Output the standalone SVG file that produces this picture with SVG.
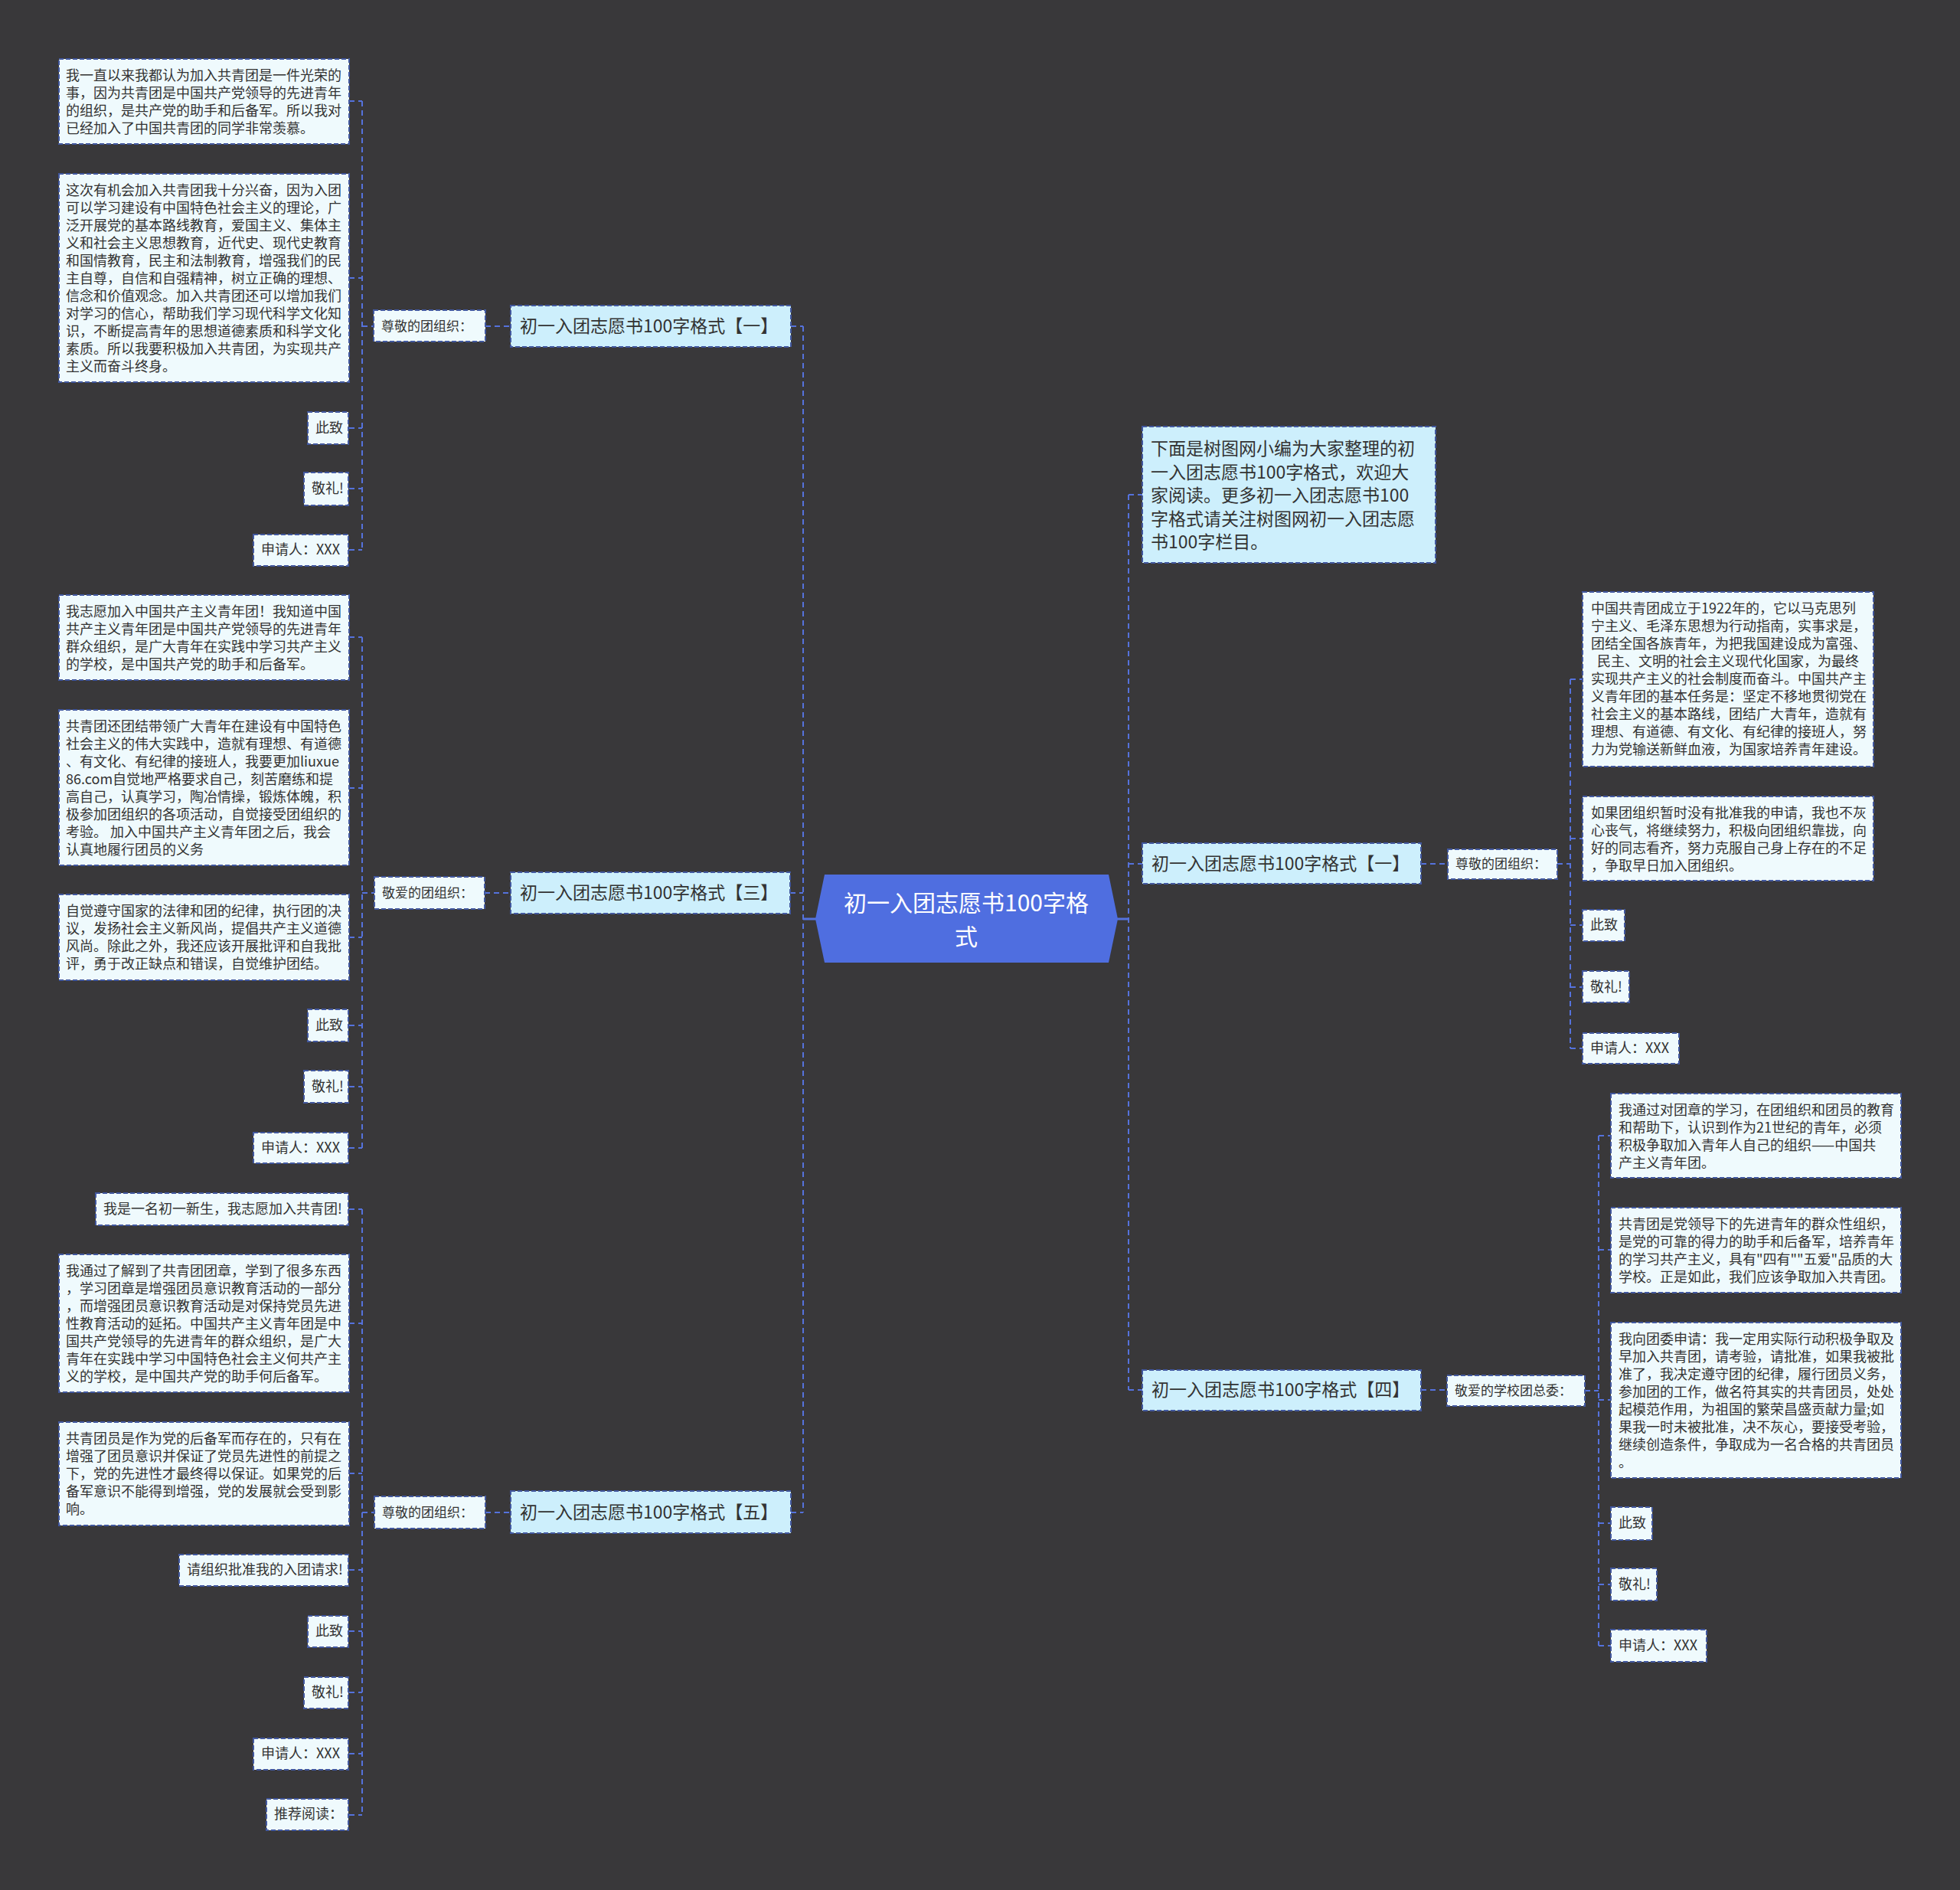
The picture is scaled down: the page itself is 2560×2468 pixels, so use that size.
<svg xmlns="http://www.w3.org/2000/svg" width="2560" height="2468" viewBox="0 0 2560 2468">
<style>
.bg{fill:#39383a}
.leaf{fill:#effafd;stroke:#42589f;stroke-width:2;stroke-dasharray:6 3}
.branch{fill:#cdeffc;stroke:#42589f;stroke-width:2;stroke-dasharray:6 3}
.t{font-family:"Noto Sans CJK SC","Noto Sans",sans-serif;fill:#333;white-space:pre}
.s18{font-size:18px}
.s17{font-size:17px}
.s23{font-size:23px}
.conn{fill:none;stroke:#5572dc;stroke-width:2;stroke-dasharray:7 5}
.solid{fill:none;stroke:#5572dc;stroke-width:3}
</style>
<rect class="bg" x="0" y="0" width="2560" height="2468"/>

<g id="connectors">
<path class="solid" d="M1049 1200H1066M1459 1200H1474"/>
<path class="conn" d="M1049 426V1975M1033 426H1049M1032 1166H1049M1033 1975H1049"/>
<path class="conn" d="M634 426H667M473 132V718M473 426H488M456 132H473M456 363H473M456 559H473M456 638H473M456 718H473"/>
<path class="conn" d="M633 1166H667M473 832V1499M473 1166H489M456 832H473M456 1029H473M456 1224H473M456 1339H473M456 1419H473M456 1499H473"/>
<path class="conn" d="M634 1975H667M473 1579V2370M473 1975H489M456 1579H473M456 1728H473M456 1924H473M456 2050H473M456 2130H473M456 2210H473M456 2290H473M456 2370H473"/>
<path class="conn" d="M1474 646V1815M1474 646H1492M1474 1128H1492M1474 1815H1492"/>
<path class="conn" d="M1856 1128H1891M2034 1128H2051M2051 887V1369M2051 887H2067M2051 1095H2067M2051 1208H2067M2051 1289H2067M2051 1369H2067"/>
<path class="conn" d="M1856 1815H1890M2070 1816H2088M2088 1483V2149M2088 1483H2104M2088 1632H2104M2088 1828H2104M2088 1989H2104M2088 2069H2104M2088 2149H2104"/>
</g>

<g id="center">
<polygon points="1077,1142 1448,1142 1460,1200 1448,1257 1077,1257 1065,1200" fill="#4f6ee0"/>
<text class="t" font-size="30" style="fill:#fff" text-anchor="middle" x="1262" y="1190">初一入团志愿书100字格</text>
<text class="t" font-size="30" style="fill:#fff" text-anchor="middle" x="1262" y="1234">式</text>
</g>

<!-- Left branch 一 -->
<g id="L1">
<rect class="branch" x="667" y="399" width="366" height="54"/>
<text class="t s23" x="679" y="434">初一入团志愿书100字格式【一】</text>
</g>
<g id="L1-label">
<rect class="leaf" x="488" y="405" width="146" height="41"/>
<text class="t s17" x="498" y="432">尊敬的团组织：</text>
</g>
<g id="L1-c1">
<rect class="leaf" x="77" y="77" width="379" height="111"/>
<text class="t s18"><tspan x="86" y="105">我一直以来我都认为加入共青团是一件光荣的</tspan><tspan x="86" y="128">事，因为共青团是中国共产党领导的先进青年</tspan><tspan x="86" y="151">的组织，是共产党的助手和后备军。所以我对</tspan><tspan x="86" y="174">已经加入了中国共青团的同学非常羡慕。</tspan></text>
</g>
<g id="L1-c2">
<rect class="leaf" x="77" y="227" width="379" height="272"/>
<text class="t s18"><tspan x="86" y="255">这次有机会加入共青团我十分兴奋，因为入团</tspan><tspan x="86" y="278">可以学习建设有中国特色社会主义的理论，广</tspan><tspan x="86" y="301">泛开展党的基本路线教育，爱国主义、集体主</tspan><tspan x="86" y="324">义和社会主义思想教育，近代史、现代史教育</tspan><tspan x="86" y="347">和国情教育，民主和法制教育，增强我们的民</tspan><tspan x="86" y="370">主自尊，自信和自强精神，树立正确的理想、</tspan><tspan x="86" y="393">信念和价值观念。加入共青团还可以增加我们</tspan><tspan x="86" y="416">对学习的信心，帮助我们学习现代科学文化知</tspan><tspan x="86" y="439">识，不断提高青年的思想道德素质和科学文化</tspan><tspan x="86" y="462">素质。所以我要积极加入共青团，为实现共产</tspan><tspan x="86" y="485">主义而奋斗终身。</tspan></text>
</g>
<g id="L1-c3"><rect class="leaf" x="402" y="538" width="53" height="42"/><text class="t s18" x="412" y="565">此致</text></g>
<g id="L1-c4"><rect class="leaf" x="397" y="617" width="58" height="43"/><text class="t s18" x="407" y="644">敬礼!</text></g>
<g id="L1-c5"><rect class="leaf" x="331" y="698" width="124" height="41"/><text class="t s18" x="341" y="724">申请人：XXX</text></g>

<!-- Left branch 三 -->
<g id="L3">
<rect class="branch" x="667" y="1139" width="365" height="54"/>
<text class="t s23" x="679" y="1174">初一入团志愿书100字格式【三】</text>
</g>
<g id="L3-label">
<rect class="leaf" x="489" y="1145" width="144" height="42"/>
<text class="t s17" x="499" y="1172">敬爱的团组织：</text>
</g>
<g id="L3-c1">
<rect class="leaf" x="77" y="777" width="379" height="111"/>
<text class="t s18"><tspan x="86" y="805">我志愿加入中国共产主义青年团！我知道中国</tspan><tspan x="86" y="828">共产主义青年团是中国共产党领导的先进青年</tspan><tspan x="86" y="851">群众组织，是广大青年在实践中学习共产主义</tspan><tspan x="86" y="874">的学校，是中国共产党的助手和后备军。</tspan></text>
</g>
<g id="L3-c2">
<rect class="leaf" x="77" y="927" width="379" height="203"/>
<text class="t s18"><tspan x="86" y="955">共青团还团结带领广大青年在建设有中国特色</tspan><tspan x="86" y="978">社会主义的伟大实践中，造就有理想、有道德</tspan><tspan x="86" y="1001">、有文化、有纪律的接班人，我要更加liuxue</tspan><tspan x="86" y="1024">86.com自觉地严格要求自己，刻苦磨练和提</tspan><tspan x="86" y="1047">高自己，认真学习，陶冶情操，锻炼体魄，积</tspan><tspan x="86" y="1070">极参加团组织的各项活动，自觉接受团组织的</tspan><tspan x="86" y="1093">考验。 加入中国共产主义青年团之后，我会</tspan><tspan x="86" y="1116">认真地履行团员的义务</tspan></text>
</g>
<g id="L3-c3">
<rect class="leaf" x="77" y="1168" width="379" height="112"/>
<text class="t s18"><tspan x="86" y="1196">自觉遵守国家的法律和团的纪律，执行团的决</tspan><tspan x="86" y="1219">议，发扬社会主义新风尚，提倡共产主义道德</tspan><tspan x="86" y="1242">风尚。除此之外，我还应该开展批评和自我批</tspan><tspan x="86" y="1265">评，勇于改正缺点和错误，自觉维护团结。</tspan></text>
</g>
<g id="L3-c4"><rect class="leaf" x="402" y="1318" width="53" height="42"/><text class="t s18" x="412" y="1345">此致</text></g>
<g id="L3-c5"><rect class="leaf" x="397" y="1398" width="58" height="42"/><text class="t s18" x="407" y="1425">敬礼!</text></g>
<g id="L3-c6"><rect class="leaf" x="331" y="1479" width="124" height="40"/><text class="t s18" x="341" y="1505">申请人：XXX</text></g>

<!-- Left branch 五 -->
<g id="L5">
<rect class="branch" x="667" y="1947" width="366" height="55"/>
<text class="t s23" x="679" y="1983">初一入团志愿书100字格式【五】</text>
</g>
<g id="L5-label">
<rect class="leaf" x="489" y="1954" width="145" height="42"/>
<text class="t s17" x="499" y="1981">尊敬的团组织：</text>
</g>
<g id="L5-c1"><rect class="leaf" x="125" y="1558" width="330" height="42"/><text class="t s18" x="135" y="1585">我是一名初一新生，我志愿加入共青团!</text></g>
<g id="L5-c2">
<rect class="leaf" x="77" y="1638" width="379" height="180"/>
<text class="t s18"><tspan x="86" y="1666">我通过了解到了共青团团章，学到了很多东西</tspan><tspan x="86" y="1689">，学习团章是增强团员意识教育活动的一部分</tspan><tspan x="86" y="1712">，而增强团员意识教育活动是对保持党员先进</tspan><tspan x="86" y="1735">性教育活动的延拓。中国共产主义青年团是中</tspan><tspan x="86" y="1758">国共产党领导的先进青年的群众组织，是广大</tspan><tspan x="86" y="1781">青年在实践中学习中国特色社会主义何共产主</tspan><tspan x="86" y="1804">义的学校，是中国共产党的助手何后备军。</tspan></text>
</g>
<g id="L5-c3">
<rect class="leaf" x="77" y="1857" width="379" height="135"/>
<text class="t s18"><tspan x="86" y="1885">共青团员是作为党的后备军而存在的，只有在</tspan><tspan x="86" y="1908">增强了团员意识并保证了党员先进性的前提之</tspan><tspan x="86" y="1931">下，党的先进性才最终得以保证。如果党的后</tspan><tspan x="86" y="1954">备军意识不能得到增强，党的发展就会受到影</tspan><tspan x="86" y="1977">响。</tspan></text>
</g>
<g id="L5-c4"><rect class="leaf" x="234" y="2030" width="221" height="41"/><text class="t s18" x="244" y="2056">请组织批准我的入团请求!</text></g>
<g id="L5-c5"><rect class="leaf" x="402" y="2110" width="53" height="41"/><text class="t s18" x="412" y="2136">此致</text></g>
<g id="L5-c6"><rect class="leaf" x="397" y="2190" width="58" height="41"/><text class="t s18" x="407" y="2216">敬礼!</text></g>
<g id="L5-c7"><rect class="leaf" x="331" y="2270" width="124" height="41"/><text class="t s18" x="341" y="2296">申请人：XXX</text></g>
<g id="L5-c8"><rect class="leaf" x="348" y="2349" width="107" height="41"/><text class="t s18" x="358" y="2375">推荐阅读：</text></g>

<!-- Right intro -->
<g id="R-intro">
<rect class="branch" x="1492" y="557" width="383" height="178"/>
<text class="t s23"><tspan x="1503" y="594">下面是树图网小编为大家整理的初</tspan><tspan x="1503" y="624.5">一入团志愿书100字格式，欢迎大</tspan><tspan x="1503" y="655">家阅读。更多初一入团志愿书100</tspan><tspan x="1503" y="685.5">字格式请关注树图网初一入团志愿</tspan><tspan x="1503" y="716">书100字栏目。</tspan></text>
</g>

<!-- Right branch 一 -->
<g id="R1">
<rect class="branch" x="1492" y="1101" width="364" height="53"/>
<text class="t s23" x="1504" y="1136">初一入团志愿书100字格式【一】</text>
</g>
<g id="R1-label">
<rect class="leaf" x="1891" y="1109" width="143" height="39"/>
<text class="t s17" x="1901" y="1134">尊敬的团组织：</text>
</g>
<g id="R1-c1">
<rect class="leaf" x="2067" y="773" width="380" height="228"/>
<text class="t s18"><tspan x="2078" y="801">中国共青团成立于1922年的，它以马克思列</tspan><tspan x="2078" y="824">宁主义、毛泽东思想为行动指南，实事求是，</tspan><tspan x="2078" y="847">团结全国各族青年，为把我国建设成为富强、</tspan><tspan x="2078" y="870">  民主、文明的社会主义现代化国家，为最终</tspan><tspan x="2078" y="893">实现共产主义的社会制度而奋斗。中国共产主</tspan><tspan x="2078" y="916">义青年团的基本任务是：坚定不移地贯彻党在</tspan><tspan x="2078" y="939">社会主义的基本路线，团结广大青年，造就有</tspan><tspan x="2078" y="962">理想、有道德、有文化、有纪律的接班人，努</tspan><tspan x="2078" y="985">力为党输送新鲜血液，为国家培养青年建设。</tspan></text>
</g>
<g id="R1-c2">
<rect class="leaf" x="2067" y="1040" width="380" height="110"/>
<text class="t s18"><tspan x="2078" y="1068">如果团组织暂时没有批准我的申请，我也不灰</tspan><tspan x="2078" y="1091">心丧气，将继续努力，积极向团组织靠拢，向</tspan><tspan x="2078" y="1114">好的同志看齐，努力克服自己身上存在的不足</tspan><tspan x="2078" y="1137">，争取早日加入团组织。</tspan></text>
</g>
<g id="R1-c3"><rect class="leaf" x="2067" y="1188" width="55" height="41"/><text class="t s18" x="2077" y="1214">此致</text></g>
<g id="R1-c4"><rect class="leaf" x="2067" y="1268" width="61" height="41"/><text class="t s18" x="2077" y="1295">敬礼!</text></g>
<g id="R1-c5"><rect class="leaf" x="2067" y="1349" width="126" height="40"/><text class="t s18" x="2077" y="1375">申请人：XXX</text></g>

<!-- Right branch 四 -->
<g id="R4">
<rect class="branch" x="1492" y="1789" width="364" height="53"/>
<text class="t s23" x="1504" y="1823">初一入团志愿书100字格式【四】</text>
</g>
<g id="R4-label">
<rect class="leaf" x="1890" y="1796" width="180" height="40"/>
<text class="t s17" x="1900" y="1822">敬爱的学校团总委：</text>
</g>
<g id="R4-c1">
<rect class="leaf" x="2104" y="1428" width="379" height="110"/>
<text class="t s18"><tspan x="2114" y="1456">我通过对团章的学习，在团组织和团员的教育</tspan><tspan x="2114" y="1479">和帮助下，认识到作为21世纪的青年，必须</tspan><tspan x="2114" y="1502">积极争取加入青年人自己的组织——中国共</tspan><tspan x="2114" y="1525">产主义青年团。</tspan></text>
</g>
<g id="R4-c2">
<rect class="leaf" x="2104" y="1577" width="379" height="111"/>
<text class="t s18"><tspan x="2114" y="1605">共青团是党领导下的先进青年的群众性组织，</tspan><tspan x="2114" y="1628">是党的可靠的得力的助手和后备军，培养青年</tspan><tspan x="2114" y="1651">的学习共产主义，具有"四有""五爱"品质的大</tspan><tspan x="2114" y="1674">学校。正是如此，我们应该争取加入共青团。</tspan></text>
</g>
<g id="R4-c3">
<rect class="leaf" x="2104" y="1727" width="379" height="203"/>
<text class="t s18"><tspan x="2114" y="1755">我向团委申请：我一定用实际行动积极争取及</tspan><tspan x="2114" y="1778">早加入共青团，请考验，请批准，如果我被批</tspan><tspan x="2114" y="1801">准了，我决定遵守团的纪律，履行团员义务，</tspan><tspan x="2114" y="1824">参加团的工作，做名符其实的共青团员，处处</tspan><tspan x="2114" y="1847">起模范作用，为祖国的繁荣昌盛贡献力量;如</tspan><tspan x="2114" y="1870">果我一时未被批准，决不灰心，要接受考验，</tspan><tspan x="2114" y="1893">继续创造条件，争取成为一名合格的共青团员</tspan><tspan x="2114" y="1916">。</tspan></text>
</g>
<g id="R4-c4"><rect class="leaf" x="2104" y="1968" width="54" height="43"/><text class="t s18" x="2114" y="1995">此致</text></g>
<g id="R4-c5"><rect class="leaf" x="2104" y="2048" width="60" height="42"/><text class="t s18" x="2114" y="2075">敬礼!</text></g>
<g id="R4-c6"><rect class="leaf" x="2104" y="2128" width="125" height="42"/><text class="t s18" x="2114" y="2155">申请人：XXX</text></g>
</svg>
